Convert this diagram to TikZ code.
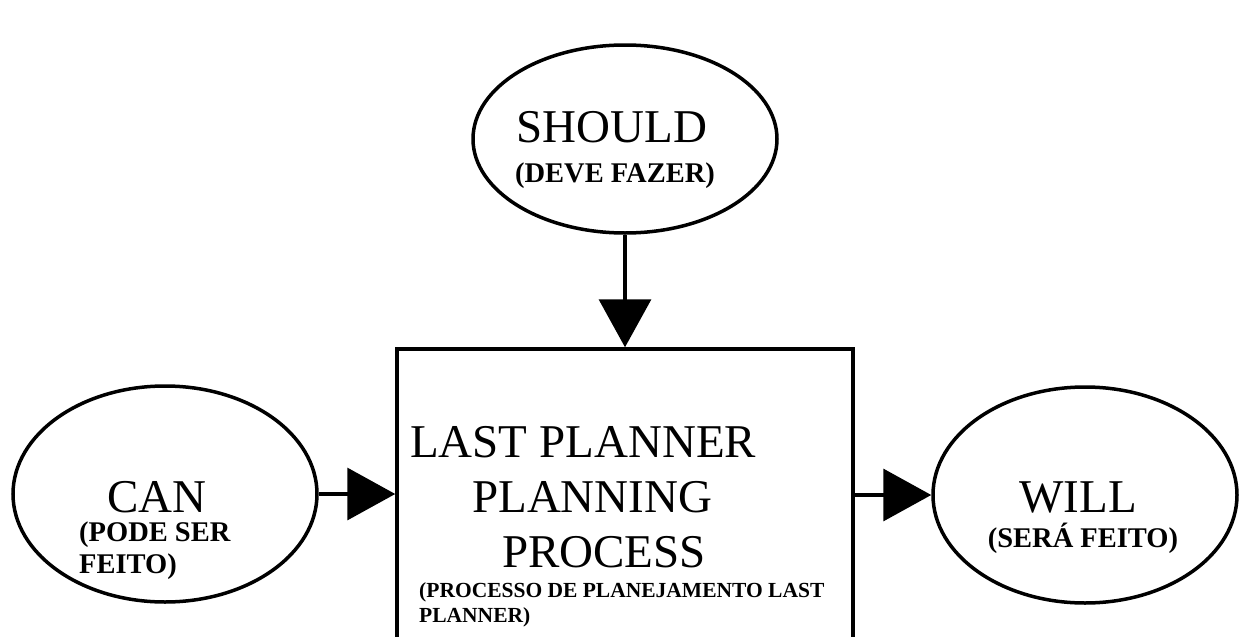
\documentclass[tikz,border=0pt]{standalone}
\usepackage{fontspec}
\setmainfont{Liberation Serif}
\usetikzlibrary{shapes.geometric,arrows.meta}

\tikzset{
  oval/.style={draw=black, line width=3.5pt, ellipse, inner sep=0pt, minimum width=304pt},
  procbox/.style={draw=black, line width=3.5pt, rectangle, inner sep=0pt},
  flow/.style={draw=black, line width=3.5pt, -{Triangle[length=48pt,width=52pt]}},
  big/.style={inner sep=0pt, text depth=0pt, font=\fontsize{47}{47}\selectfont},
  sub/.style={inner sep=0pt, font=\bfseries\fontsize{28.5}{28.5}\selectfont},
  subsmall/.style={inner sep=0pt, font=\bfseries\fontsize{21.5}{21.5}\selectfont}
}

\begin{document}
\begin{tikzpicture}[x=1pt, y=-1pt]
  \useasboundingbox (0,0) rectangle (1240,637);
  \clip (0,0) rectangle (1240,637);

  % central process box (runs past the lower edge)
  \node[procbox, minimum width=456pt, minimum height=400pt] (box) at (625,549) {};

  % the three ovals
  \node[oval, minimum height=188pt] (should) at (625,139) {};
  \node[oval, minimum height=216pt] (can) at (165,494) {};
  \node[oval, minimum height=216pt] (will) at (1085,495) {};

  % labels of the ovals
  \node[big, anchor=base] (shouldtxt) at (612,142) {SHOULD};
  \node[sub, anchor=base] (shouldsub) at (615,182) {(DEVE FAZER)};

  \node[big, anchor=base] (cantxt) at (157,512) {CAN};
  \node[sub, anchor=base west] (cansub1) at (79,541) {(PODE SER};
  \node[sub, anchor=base west] (cansub2) at (79,573) {FEITO)};

  \node[big, anchor=base] (willtxt) at (1078,512) {WILL};
  \node[sub, anchor=base] (willsub) at (1083,547) {(SERÁ FEITO)};

  % labels of the box
  \node[big, anchor=base west] (lp1) at (410,457) {LAST PLANNER};
  \node[big, anchor=base west] (lp2) at (472,512) {PLANNING};
  \node[big, anchor=base west] (lp3) at (502,567) {PROCESS};
  \node[subsmall, anchor=base west] (lps1) at (419,597) {(PROCESSO DE PLANEJAMENTO LAST};
  \node[subsmall, anchor=base west] (lps2) at (419,622) {PLANNER)};

  % connectors
  \coordinate (boxtop) at (should.south |- box.north);
  \coordinate (boxleft) at (can.east -| box.west);
  \coordinate (boxright) at (box.east |- will.west);
  \draw[flow] (should.south) -- (boxtop);
  \draw[flow] (can.east) -- (boxleft);
  \draw[flow] (boxright) -- (will.west);
\end{tikzpicture}
\end{document}
